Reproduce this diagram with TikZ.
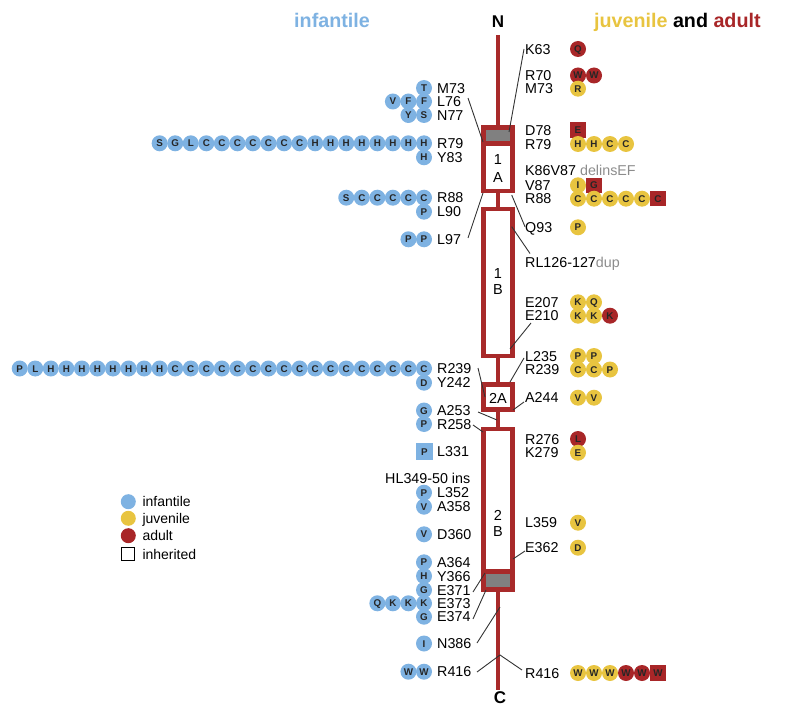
\documentclass[tikz,border=0pt]{standalone}
\usepackage{fontspec}
\setmainfont{Liberation Sans}
\definecolor{infblue}{RGB}{126,178,226}
\definecolor{juvyel}{RGB}{232,196,64}
\definecolor{adred}{RGB}{168,38,40}
\definecolor{rodred}{RGB}{168,42,42}
\definecolor{dupgray}{RGB}{140,140,140}
\definecolor{boxgray}{RGB}{128,128,128}
\tikzset{
  lab/.style={anchor=west, inner sep=0pt, text height=10.2pt, text depth=0pt, font=\fontsize{14.3}{16}\selectfont},
  labe/.style={lab, anchor=east},
  mut/.style={circle, minimum size=16pt, inner sep=0pt, text height=7pt, text depth=0pt, font=\bfseries\fontsize{9.8}{10}\selectfont, text=black!85},
  mb/.style={mut, fill=infblue},
  my/.style={mut, fill=juvyel},
  mr/.style={mut, fill=adred},
  sqr/.style={mut, rectangle, minimum size=15.5pt, fill=adred},
  sqb/.style={mut, rectangle, minimum size=16.5pt, fill=infblue},
  rod/.style={draw=rodred, line width=4.5pt},
  conn/.style={draw=black!80, line width=0.9pt},
  boxtxt/.style={inner sep=0pt, font=\fontsize{14.5}{16}\selectfont},
  head/.style={inner sep=0pt, anchor=base, font=\bfseries\fontsize{19.7}{21}\selectfont},
  legdot/.style={circle, minimum size=15pt, inner sep=0pt},
}
\newcommand\mrow[5]{\foreach \s/\l [count=\i from 0] in {#5} {\node[\s] (#1\i) at ({#2+\i*#3},#4) {\l};}}
\begin{document}
\begin{tikzpicture}[x=1pt,y=-1pt]
\useasboundingbox (0,0) rectangle (785,706);

% headers
\node[head, text=infblue] (hinf) at (332,28) {infantile};
\node[head, anchor=base west] (hjuv) at (594,28) {\textcolor{juvyel}{juvenile} and \textcolor{adred}{adult}};
\node[inner sep=0pt, font=\bfseries\fontsize{17}{19}\selectfont] (Nterm) at (498,21.7) {N};
\node[inner sep=0pt, font=\bfseries\fontsize{17}{19}\selectfont] (Cterm) at (500,698) {C};

% rod
\draw[rod] (498,35) -- (498,690);
\draw[rod, fill=white] (483.7,127.3) rectangle (512.3,191);
\draw[rod, fill=boxgray] (483.7,127.3) rectangle (512.3,143.3);
\draw[rod, fill=white] (483.7,209) rectangle (512.3,356);
\draw[rod, fill=white] (483.7,384.3) rectangle (512.3,409.7);
\draw[rod, fill=white] (483.7,429) rectangle (512.3,589.5);
\draw[rod, fill=boxgray] (483.7,571.3) rectangle (512.3,589.5);
\node[boxtxt] (t1a1) at (498,160) {1};
\node[boxtxt] (t1a2) at (498,177.5) {A};
\node[boxtxt] (t1b1) at (498,273.3) {1};
\node[boxtxt] (t1b2) at (498,289.3) {B};
\node[boxtxt] (t2a) at (498,398.3) {2A};
\node[boxtxt] (t2b1) at (498,515) {2};
\node[boxtxt] (t2b2) at (498,531.7) {B};

% right labels
\node[lab] (rK63) at (525,49) {K63};
\node[lab] (rR70) at (525,75.5) {R70};
\node[lab] (rM73) at (525,88.7) {M73};
\node[lab] (rD78) at (525,130.5) {D78};
\node[lab] (rR79) at (525,144) {R79};
\node[lab] (rK86) at (525,170.7) {K86V87 \textcolor{dupgray}{delinsEF}};
\node[lab] (rV87) at (525,185.3) {V87};
\node[lab] (rR88) at (525,198.7) {R88};
\node[lab] (rQ93) at (525,227.3) {Q93};
\node[lab] (rRL) at (525,262) {RL126-127\textcolor{dupgray}{dup}};
\node[lab] (rE207) at (525,302.3) {E207};
\node[lab] (rE210) at (525,315.7) {E210};
\node[lab] (rL235) at (525,356) {L235};
\node[lab] (rR239) at (525,369.5) {R239};
\node[lab] (rA244) at (525,397.7) {A244};
\node[lab] (rR276) at (525,439) {R276};
\node[lab] (rK279) at (525,452.7) {K279};
\node[lab] (rL359) at (525,522.7) {L359};
\node[lab] (rE362) at (525,547.7) {E362};
\node[lab] (rR416) at (525,673) {R416};

% right mutations
\mrow{jK63-}{578}{16}{49}{mr/Q}
\mrow{jR70-}{578}{16}{75.5}{mr/W,mr/W}
\mrow{jM73-}{578}{16}{88.7}{my/R}
\mrow{jD78-}{578}{16}{130}{sqr/E}
\mrow{jR79-}{578}{16}{144}{my/H,my/H,my/C,my/C}
\mrow{jV87-}{578}{16}{185.3}{my/I,sqr/G}
\mrow{jR88-}{578}{16}{198.7}{my/C,my/C,my/C,my/C,my/C,sqr/C}
\mrow{jQ93-}{578}{16}{227.3}{my/P}
\mrow{jE207-}{578}{16}{302.3}{my/K,my/Q}
\mrow{jE210-}{578}{16}{315.7}{my/K,my/K,mr/K}
\mrow{jL235-}{578}{16}{356}{my/P,my/P}
\mrow{jR239-}{578}{16}{369.5}{my/C,my/C,my/P}
\mrow{jA244-}{578}{16}{397.7}{my/V,my/V}
\mrow{jR276-}{578}{16}{439}{mr/L}
\mrow{jK279-}{578}{16}{452.7}{my/E}
\mrow{jL359-}{578}{16}{522.7}{my/V}
\mrow{jE362-}{578}{16}{547.7}{my/D}
\mrow{jR416-}{578}{16}{673}{my/W,my/W,my/W,mr/W,mr/W,sqr/W}

% left labels
\node[lab] (lM73) at (437,88) {M73};
\node[lab] (lL76) at (437,101.5) {L76};
\node[lab] (lN77) at (437,115) {N77};
\node[lab] (lR79) at (437,143.3) {R79};
\node[lab] (lY83) at (437,157.3) {Y83};
\node[lab] (lR88) at (437,197.7) {R88};
\node[lab] (lL90) at (437,211.7) {L90};
\node[lab] (lL97) at (437,239.3) {L97};
\node[lab] (lR239) at (437,368.5) {R239};
\node[lab] (lY242) at (437,382.7) {Y242};
\node[lab] (lA253) at (437,410.5) {A253};
\node[lab] (lR258) at (437,424) {R258};
\node[lab] (lL331) at (437,451.7) {L331};
\node[labe] (lHL) at (470.5,478.7) {HL349-50 ins};
\node[lab] (lL352) at (437,492.7) {L352};
\node[lab] (lA358) at (437,506.7) {A358};
\node[lab] (lD360) at (437,534.3) {D360};
\node[lab] (lA364) at (437,562.3) {A364};
\node[lab] (lY366) at (437,576) {Y366};
\node[lab] (lE371) at (437,590) {E371};
\node[lab] (lE373) at (437,603.3) {E373};
\node[lab] (lE374) at (437,616.7) {E374};
\node[lab] (lN386) at (437,643.5) {N386};
\node[lab] (lR416) at (437,671.7) {R416};

% left mutations
\mrow{iM73-}{424}{15.55}{88}{mb/T}
\mrow{iL76-}{392.9}{15.55}{101.5}{mb/V,mb/F,mb/F}
\mrow{iN77-}{408.45}{15.55}{115}{mb/Y,mb/S}
\mrow{iR79-}{159.65}{15.55}{143.3}{mb/S,mb/G,mb/L,mb/C,mb/C,mb/C,mb/C,mb/C,mb/C,mb/C,mb/H,mb/H,mb/H,mb/H,mb/H,mb/H,mb/H,mb/H}
\mrow{iY83-}{424}{15.55}{157.3}{mb/H}
\mrow{iR88-}{346.25}{15.55}{197.7}{mb/S,mb/C,mb/C,mb/C,mb/C,mb/C}
\mrow{iL90-}{424}{15.55}{211.7}{mb/P}
\mrow{iL97-}{408.45}{15.55}{239.3}{mb/P,mb/P}
\mrow{iR239-}{19.7}{15.55}{368.5}{mb/P,mb/L,mb/H,mb/H,mb/H,mb/H,mb/H,mb/H,mb/H,mb/H,mb/C,mb/C,mb/C,mb/C,mb/C,mb/C,mb/C,mb/C,mb/C,mb/C,mb/C,mb/C,mb/C,mb/C,mb/C,mb/C,mb/C}
\mrow{iY242-}{424}{15.55}{382.7}{mb/D}
\mrow{iA253-}{424}{15.55}{410.5}{mb/G}
\mrow{iR258-}{424}{15.55}{424}{mb/P}
\mrow{iL331-}{424.5}{15.55}{451.7}{sqb/P}
\mrow{iL352-}{424}{15.55}{492.7}{mb/P}
\mrow{iA358-}{424}{15.55}{506.7}{mb/V}
\mrow{iD360-}{424}{15.55}{534.3}{mb/V}
\mrow{iA364-}{424}{15.55}{562.3}{mb/P}
\mrow{iY366-}{424}{15.55}{576}{mb/H}
\mrow{iE371-}{424}{15.55}{590}{mb/G}
\mrow{iE373-}{377.35}{15.55}{603.3}{mb/Q,mb/K,mb/K,mb/K}
\mrow{iE374-}{424}{15.55}{616.7}{mb/G}
\mrow{iN386-}{424}{15.55}{643.5}{mb/I}
\mrow{iR416-}{408.45}{15.55}{671.7}{mb/W,mb/W}

% connector end points
\coordinate (cK63a) at (524,49);   \coordinate (cK63b) at (509,132);
\coordinate (cQ93a) at (511.7,195); \coordinate (cQ93b) at (525,226.7);
\coordinate (cRLa) at (511.7,226.7); \coordinate (cRLb) at (530,253.5);
\coordinate (cE210a) at (510,349); \coordinate (cE210b) at (531,323);
\coordinate (cL235a) at (510,382); \coordinate (cL235b) at (524,358);
\coordinate (cA244a) at (513,410); \coordinate (cA244b) at (524,402);
\coordinate (cE362a) at (513,559); \coordinate (cE362b) at (525,551);
\coordinate (cjunc) at (500,655);
\coordinate (cR416r) at (522,670);
\coordinate (cL76a) at (468,98);  \coordinate (cL76b) at (483,142);
\coordinate (cL97a) at (468,238); \coordinate (cL97b) at (483,193);
\coordinate (cR239a) at (478,368); \coordinate (cR239b) at (485,397);
\coordinate (cA253a) at (478,412); \coordinate (cA253b) at (497,420);
\coordinate (cR258a) at (473,425); \coordinate (cR258b) at (483,432);
\coordinate (cE371a) at (473,592); \coordinate (cE371b) at (485,573);
\coordinate (cE374a) at (473,619); \coordinate (cE374b) at (486,590);
\coordinate (cN386a) at (477,643); \coordinate (cN386b) at (500,607);
\coordinate (cR416l) at (477,672);

% connectors
\draw[conn] (cK63a) -- (cK63b);
\draw[conn] (cQ93a) -- (cQ93b);
\draw[conn] (cRLa) -- (cRLb);
\draw[conn] (cE210a) -- (cE210b);
\draw[conn] (cL235a) -- (cL235b);
\draw[conn] (cA244a) -- (cA244b);
\draw[conn] (cE362a) -- (cE362b);
\draw[conn] (cR416l) -- (cjunc) -- (cR416r);
\draw[conn] (cL76a) -- (cL76b);
\draw[conn] (cL97a) -- (cL97b);
\draw[conn] (cR239a) -- (cR239b);
\draw[conn] (cA253a) -- (cA253b);
\draw[conn] (cR258a) -- (cR258b);
\draw[conn] (cE371a) -- (cE371b);
\draw[conn] (cE374a) -- (cE374b);
\draw[conn] (cN386a) -- (cN386b);

% legend
\node[legdot, fill=infblue] (legb) at (128.3,501.7) {};
\node[legdot, fill=juvyel] (legy) at (128.3,518.3) {};
\node[legdot, fill=adred] (legr) at (128.3,535.7) {};
\node[draw=black, line width=0.9pt, minimum size=13pt, inner sep=0pt] (legs) at (128.3,554.3) {};
\node[lab, font=\fontsize{14}{16}\selectfont] (legbt) at (142.3,501.7) {infantile};
\node[lab, font=\fontsize{14}{16}\selectfont] (legyt) at (142.3,518.3) {juvenile};
\node[lab, font=\fontsize{14}{16}\selectfont] (legrt) at (142.3,535.7) {adult};
\node[lab, font=\fontsize{14}{16}\selectfont] (legst) at (142.3,554.3) {inherited};
\end{tikzpicture}
\end{document}
